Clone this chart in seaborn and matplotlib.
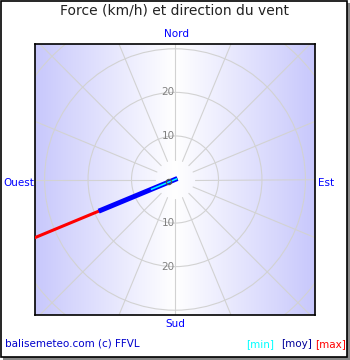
import numpy as np
import pandas as pd
import matplotlib
matplotlib.use("Agg")
import matplotlib.pyplot as plt
from matplotlib.patches import Rectangle, Circle
import seaborn as sns

# ---- data ----
direction_deg = 247.5          # compass direction of the wind (WSW)
series_names = ["max", "moy", "min"]
series_speeds = [38, 19, 6]     # km/h
series_colors = ["#ff0000", "#0000ff", "#00ffff"]
series_widths = [2.2, 3.6, 1.1]
grid_rings = [10, 20, 30, 40]
ring_labels = [10, 20]
cardinal_names = ["Nord", "Est", "Sud", "Ouest"]
title = "Force (km/h) et direction du vent"
footer = "balisemeteo.com (c) FFVL"
legend_texts = ["[min]", "[moy]", "[max]"]
legend_colors = ["#00ffff", "#000099", "#ff0000"]

sns.set_theme(style="white")
plt.rcParams["font.family"] = ["DejaVu Sans"]

W, H = 350, 360
fig = plt.figure(figsize=(W / 100, H / 100), dpi=100)
fig.patch.set_facecolor("white")

def fx(px): return px / W
def fy(py): return 1 - py / H

# figure border with shadow
fig.patches.append(Rectangle((fx(3), fy(360)), fx(347), 357 / H, transform=fig.transFigure,
                             facecolor="#888888", edgecolor="none", zorder=-2))
fig.patches.append(Rectangle((fx(0.7), fy(356.5)), fx(346), 355.8 / H, transform=fig.transFigure,
                             facecolor="white", edgecolor="black", lw=1.2, zorder=-1))

ax = fig.add_axes([fx(35), fy(315), 280 / W, 271 / H])
ax.set_zorder(2)
xl, yl = 32.2, 31.1
ax.set_xlim(-xl, xl)
ax.set_ylim(-yl, yl)

# gradient background
xs = np.linspace(-1, 1, 400)
t = np.abs(xs) ** 1.0
edge = np.array([200, 200, 252]) / 255.0
img = (1 - t)[:, None] * np.ones(3)[None, :] + t[:, None] * edge[None, :]
ax.imshow(img[None, :, :], extent=(-xl, xl, -yl, yl), aspect="auto", zorder=0, interpolation="bilinear")

# grid rings
for r in grid_rings:
    ax.add_patch(Circle((0, 0), r, fill=False, edgecolor="#d2d2d2", lw=0.8, zorder=1))
# radial lines
for k in range(16):
    a = np.deg2rad(k * 22.5)
    ax.plot([4.5 * np.sin(a), 60 * np.sin(a)], [4.5 * np.cos(a), 60 * np.cos(a)],
            color="#d2d2d2", lw=0.8, zorder=1)

for r in ring_labels:
    ax.text(-0.1, r, str(r), ha="right", va="center", color="#808080", fontsize=7.5, zorder=2)
    ax.text(-0.1, -r, str(r), ha="right", va="center", color="#808080", fontsize=7.5, zorder=2)

# wind lines
a = np.deg2rad(direction_deg)
for name, sp, c, lw in zip(series_names, series_speeds, series_colors, series_widths):
    df = pd.DataFrame({"x": [0.6 * np.sin(a + np.pi), sp * np.sin(a)],
                       "y": [0.6 * np.cos(a + np.pi), sp * np.cos(a)]})
    sns.lineplot(data=df, x="x", y="y", sort=False, color=c, lw=lw, ax=ax, zorder=3,
                 solid_capstyle="butt")
ax.scatter([1.5 * np.sin(a)], [1.5 * np.cos(a)], s=14, facecolor="none",
           edgecolor="#555555", lw=0.9, zorder=4)

ax.set_xlim(-xl, xl)
ax.set_ylim(-yl, yl)
ax.set_xticks([])
ax.set_yticks([])
ax.set_xlabel("")
ax.set_ylabel("")
for s in ax.spines.values():
    s.set_visible(True)
    s.set_color("black")
    s.set_linewidth(1.2)

# texts
fig.text(fx(175), fy(11), title, ha="center", va="center", fontsize=10, color="#222222")
blue = "#0000ff"
fig.text(fx(177), fy(34), cardinal_names[0], ha="center", va="center", fontsize=7.5, color=blue)
fig.text(fx(318), fy(183), cardinal_names[1], ha="left", va="center", fontsize=7.5, color=blue)
fig.text(fx(175), fy(324), cardinal_names[2], ha="center", va="center", fontsize=7.5, color=blue)
fig.text(fx(34), fy(183), cardinal_names[3], ha="right", va="center", fontsize=7.5, color=blue)
fig.text(fx(5), fy(344), footer, ha="left", va="center", fontsize=7.5, color="#0000cc")
for txt, c, xp in zip(legend_texts, legend_colors, [246, 281, 315]):
    fig.text(fx(xp), fy(344), txt, ha="left", va="center", fontsize=7.5, color=c)

fig.savefig("out.png", dpi=100)
